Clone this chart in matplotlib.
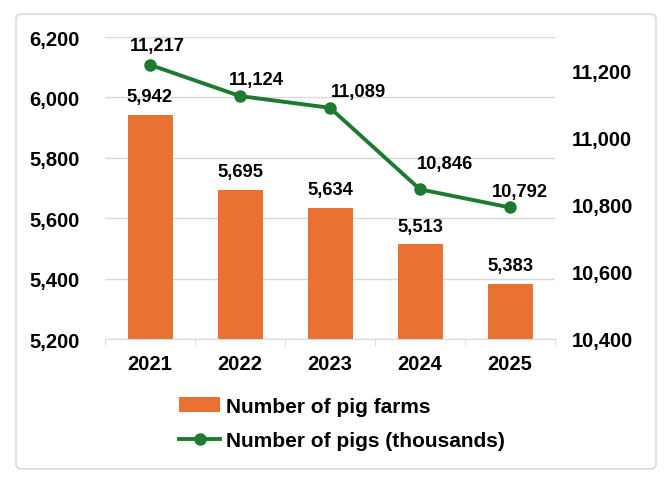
import matplotlib
matplotlib.use("Agg")
import matplotlib.pyplot as plt
from matplotlib.patches import FancyBboxPatch

plt.rcParams['font.family'] = ['Liberation Sans', 'DejaVu Sans']
plt.rcParams['font.weight'] = 'bold'

years = ['2021', '2022', '2023', '2024', '2025']
pig_farms = [5942, 5695, 5634, 5513, 5383]
pigs_thousands = [11217, 11124, 11089, 10846, 10792]

bar_color = '#E97132'
line_color = '#1E7A2E'

fig = plt.figure(figsize=(6.72, 4.85), dpi=100)
ax = fig.add_axes([105 / 672, 1 - 340 / 485, 450 / 672, 302 / 485])
ax2 = ax.twinx()

x = range(len(years))
bars = ax.bar(x, pig_farms, width=0.5, color=bar_color, zorder=2, label='Number of pig farms')
ax.set_ylim(5200, 6200)
ax.set_yticks(range(5200, 6201, 200))
ax.set_yticklabels([f'{v:,}' for v in range(5200, 6201, 200)], fontsize=14.5, fontweight='bold')
ax.set_xlim(-0.5, len(years) - 0.5)
ax.set_xticks(list(x))
ax.set_xticklabels(years, fontsize=14.5, fontweight='bold')
ax.tick_params(axis='x', length=0, pad=11)
ax.set_xticks([i + 0.5 for i in range(-1, len(years))], minor=True)
ax.tick_params(axis='x', which='minor', length=5, color='#d9d9d9')
ax.tick_params(axis='y', length=0, pad=18)
ax.grid(axis='y', color='#d9d9d9', linewidth=1, zorder=0)
ax.set_axisbelow(True)
for s in ['top', 'right', 'left']:
    ax.spines[s].set_visible(False)
ax.spines['bottom'].set_color('#d9d9d9')

for xi, v in zip(x, pig_farms):
    ax.annotate(f'{v:,}', (xi, v), xytext=(0, 7), textcoords='offset points',
                ha='center', va='bottom', fontsize=13.2, fontweight='bold')

line, = ax2.plot(list(x), pigs_thousands, color=line_color, linewidth=2.8,
                 marker='o', markersize=8, label='Number of pigs (thousands)', zorder=3)
ax2.set_ylim(10400, 11300)
ax2.set_yticks(range(10400, 11201, 200))
ax2.set_yticklabels([f'{v:,}' for v in range(10400, 11201, 200)], fontsize=14.5, fontweight='bold')
ax2.tick_params(axis='y', length=0, pad=12)
for s in ['top', 'right', 'left', 'bottom']:
    ax2.spines[s].set_visible(False)

# line labels were nudged by hand in the original (offsets in pixels)
label_nudge = [(7, 19), (16, 17), (28, 16), (25, 26), (10, 16)]
for xi, v, (dx, dy) in zip(x, pigs_thousands, label_nudge):
    ax2.annotate(f'{v:,}', (xi, v), xytext=(dx * 0.72, dy * 0.72), textcoords='offset points',
                 ha='center', va='center', fontsize=13.2, fontweight='bold')

fig.legend(handles=[bars, line], loc='upper left', bbox_to_anchor=(160 / 672, 1 - 379 / 485),
           frameon=False, handlelength=2.0, handletextpad=0.25, labelspacing=0.75,
           prop={'weight': 'bold', 'size': 15})

border = FancyBboxPatch((16 / 672, 15 / 485), 640 / 672, 455 / 485,
                        boxstyle='round,pad=0,rounding_size=0.01', transform=fig.transFigure,
                        facecolor='none', edgecolor='#d9d9d9', linewidth=1.2)
fig.patches.append(border)

fig.savefig('out.png', dpi=100)
